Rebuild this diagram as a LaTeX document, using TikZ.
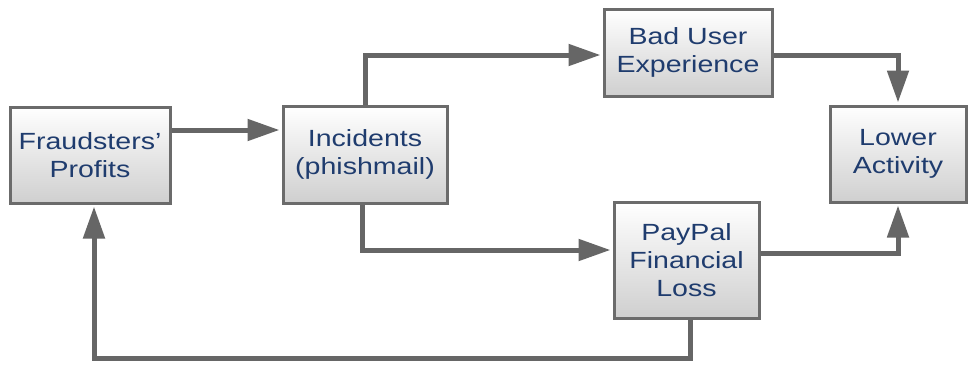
\documentclass[tikz,border=0pt]{standalone}
\usepackage{fontspec}
\setmainfont[FakeStretch=1.22]{Liberation Sans}
\usetikzlibrary{arrows.meta,shadings}
\definecolor{txt}{HTML}{1F3C6E}
\definecolor{edge}{HTML}{6B6B6B}
\definecolor{ln}{HTML}{666666}
\definecolor{boxbot}{HTML}{CFCFCF}
\tikzset{
  box/.style={draw=edge, line width=3pt, top color=white, bottom color=boxbot,
    text=txt, align=center, inner sep=0pt,
    font=\fontsize{23.4}{28}\selectfont},
  arr/.style={draw=ln, line width=5pt,
    -{Triangle[length=32pt,width=21pt]}, shorten >=2pt}
}
\begin{document}
\begin{tikzpicture}[x=1pt,y=-1pt]
\useasboundingbox (0,0) rectangle (971,364);
\node[box, minimum width=160pt, minimum height=96pt] (fraud) at (90,155) {Fraudsters’\\Profits};
\node[box, minimum width=164pt, minimum height=97pt] (inc) at (365,154.5) {Incidents\\(phishmail)};
\node[box, minimum width=168pt, minimum height=87pt] (bad) at (688,52.5) {Bad User\\Experience};
\node[box, minimum width=145pt, minimum height=116pt] (pay) at (686.5,260) {PayPal\\Financial\\Loss};
\node[box, minimum width=136pt, minimum height=96pt] (low) at (898,154) {Lower\\Activity};
\coordinate (c1) at (0,130);
\coordinate (c2) at (0,55);
\coordinate (c3) at (0,250);
\coordinate (c4) at (0,253);
\coordinate (c5) at (690,358);
\coordinate (c6) at (94,0);
\draw[arr] (fraud.east |- c1) -- (inc.west |- c1);
\draw[arr] (inc.north) |- (bad.west |- c2);
\draw[arr] ([xshift=-3pt]inc.south) |- (pay.west |- c3);
\draw[arr] (bad.east |- c2) -| (low.north);
\draw[arr] (pay.east |- c4) -| (low.south);
\draw[arr] (pay.south -| c5) |- (c6 |- c5) -- (c6 |- fraud.south);
\end{tikzpicture}
\end{document}
